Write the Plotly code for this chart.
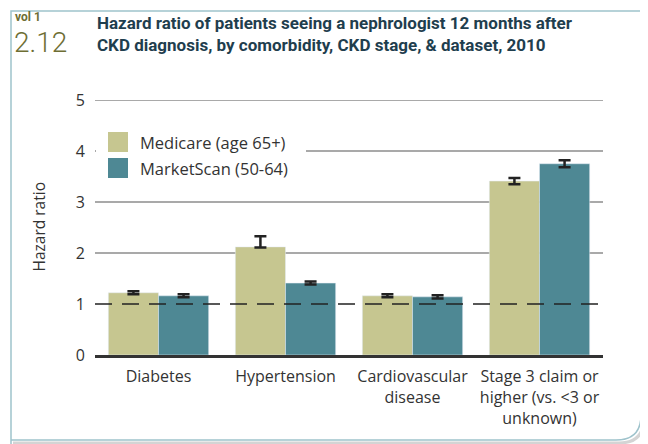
import plotly.graph_objects as go

# data
categories = [
    "Diabetes",
    "Hypertension",
    "Cardiovascular<br>disease",
    "Stage 3 claim or<br>higher (vs. &lt;3 or<br>unknown)",
]
series_names = ["Medicare (age 65+)", "MarketScan (50-64)"]
medicare = [1.22, 2.12, 1.16, 3.41]
medicare_err_plus = [0.03, 0.21, 0.03, 0.06]
medicare_err_minus = [0.03, 0.01, 0.03, 0.06]
marketscan = [1.16, 1.41, 1.14, 3.75]
marketscan_err = [0.03, 0.03, 0.03, 0.07]
gridline_values = [2, 3, 4, 5]
reference_value = 1
y_ticks = [0, 1, 2, 3, 4, 5]

COLORS = ["#c6c690", "#4e8894"]
TEXT = "#333333"
FONT = "Open Sans"
HEAD_FONT = "Roboto"

# the page body has an 8px margin, so the figure is drawn 8px smaller
OFF = 8
W, H = 648 - OFF, 444 - OFF
L, R, T, B = 95 - OFF, 45, 100 - OFF, 89


def px(x):
    # page pixel -> paper x
    return (x - OFF - L) / (W - L - R)


def py(y):
    # page pixel -> paper y
    return (H - B - (y - OFF)) / (H - T - B)


fig = go.Figure()
fig.add_trace(go.Bar(
    x=categories, y=medicare, name=series_names[0], marker_color=COLORS[0],
    error_y=dict(type="data", symmetric=False, array=medicare_err_plus,
                 arrayminus=medicare_err_minus, color="#222222",
                 thickness=2.5, width=6),
    showlegend=False,
))
fig.add_trace(go.Bar(
    x=categories, y=marketscan, name=series_names[1], marker_color=COLORS[1],
    error_y=dict(type="data", array=marketscan_err, color="#222222",
                 thickness=2.5, width=6),
    showlegend=False,
))

shapes = []
# gridlines (no gridline at 1, the reference line replaces it)
for g in gridline_values:
    shapes.append(dict(type="line", xref="paper", yref="y", x0=0, x1=1, y0=g, y1=g,
                       line=dict(color="#8c8c8c", width=1.5), layer="below"))
# reference line at hazard ratio 1
shapes.append(dict(type="line", xref="paper", yref="y", x0=0, x1=1,
                   y0=reference_value, y1=reference_value,
                   line=dict(color="#222222", width=1.3, dash="17px,10px"), layer="above"))

# frame with shadow and rounded bottom-right corner
shadow = (f"M {px(644)},{py(14)} L {px(644)},{py(418)} "
          f"Q {px(644)},{py(443)} {px(619)},{py(443)} L {px(13)},{py(443)}")
shapes.append(dict(type="path", xref="paper", yref="paper", path=shadow,
                   line=dict(color="#d4d4d4", width=3)))
frame = (f"M {px(11)},{py(444)} L {px(11)},{py(11)} L {px(641)},{py(11)} "
         f"L {px(641)},{py(415)} Q {px(641)},{py(440)} {px(616)},{py(440)} L {px(11)},{py(440)}")
shapes.append(dict(type="path", xref="paper", yref="paper", path=frame,
                   line=dict(color="#9fc3cc", width=1.5)))

# manual legend
shapes.append(dict(type="rect", xref="paper", yref="paper",
                   x0=px(96), x1=px(306), y0=py(124), y1=py(186),
                   fillcolor="white", line=dict(width=0), layer="above"))
annotations = []
for i, (name, col) in enumerate(zip(series_names, COLORS)):
    top = 132 + i * 26
    shapes.append(dict(type="rect", xref="paper", yref="paper",
                       x0=px(108), x1=px(128), y0=py(top), y1=py(top + 20),
                       fillcolor=col, line=dict(width=0), layer="above"))
    annotations.append(dict(xref="paper", yref="paper", x=px(138), y=py(top + 10),
                            text=name, showarrow=False, xanchor="left", yanchor="middle",
                            font=dict(family=FONT, size=16.5, color=TEXT)))

# header
annotations += [
    dict(xref="paper", yref="paper", x=px(14), y=py(17), text="<b>vol 1</b>", showarrow=False,
         xanchor="left", yanchor="middle", borderpad=0,
         font=dict(family=HEAD_FONT, size=12, color="#6e6e34")),
    dict(xref="paper", yref="paper", x=px(13), y=py(43), text="2.12", showarrow=False,
         xanchor="left", yanchor="middle", borderpad=0,
         font=dict(family=HEAD_FONT, size=28, weight=300, color="#6e6e34")),
    dict(xref="paper", yref="paper", x=px(95), y=py(11), align="left",
         text="<b>Hazard ratio of patients seeing a nephrologist 12 months after<br>"
              "CKD diagnosis, by comorbidity, CKD stage, &amp; dataset, 2010</b>",
         showarrow=False, xanchor="left", yanchor="top",
         font=dict(family=HEAD_FONT, size=17, color="#1f3e4e")),
    dict(xref="paper", yref="paper", x=px(38), y=0.5, text="Hazard ratio", textangle=-90,
         showarrow=False, xanchor="center", yanchor="middle",
         font=dict(family=FONT, size=15.5, color=TEXT)),
]

fig.update_layout(
    width=W, height=H,
    margin=dict(l=L, r=R, t=T, b=B),
    paper_bgcolor="white", plot_bgcolor="white",
    barmode="group", bargap=0.21, bargroupgap=0,
    shapes=shapes, annotations=annotations,
    font=dict(family=FONT, size=15, color=TEXT),
)
fig.update_xaxes(showline=True, linecolor="#333333", linewidth=2.5, showgrid=False,
                 ticks="", ticklabelstandoff=5,
                 tickfont=dict(family=FONT, size=16, color=TEXT))
fig.update_yaxes(range=[0, 5], tickvals=y_ticks, showgrid=False, zeroline=False,
                 ticks="", ticklabelstandoff=9,
                 tickfont=dict(family=FONT, size=16, color=TEXT))

fig.write_html("out.html")
